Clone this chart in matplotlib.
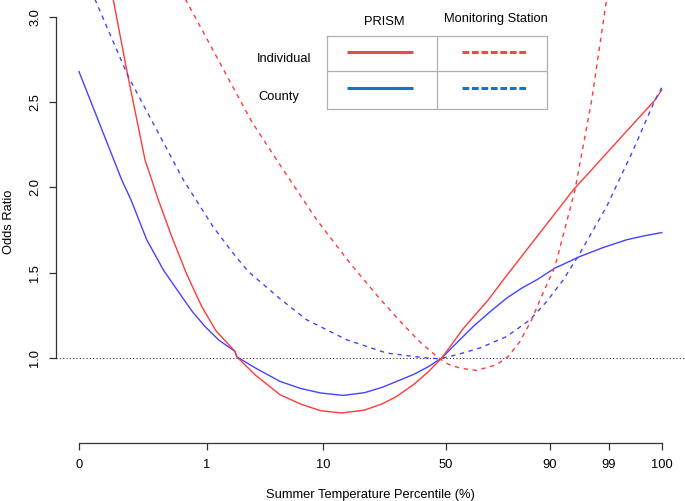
"""Odds ratio curves across the summer temperature percentile range."""

import matplotlib

matplotlib.use("Agg")
import matplotlib.pyplot as plt

plt.rcParams["font.family"] = ["Liberation Sans", "DejaVu Sans"]

# axis position of each percentile tick (axis is not linear in percentile)
tick_pos = [0, 21.97, 41.87, 62.93, 80.83, 90.96, 100]
tick_labels = ["0", "1", "10", "50", "90", "99", "100"]
y_ticks = [1.0, 1.5, 2.0, 2.5, 3.0]

# Individual exposure, PRISM
ind_prism_x = [0, 5.89, 8.19, 11.33, 12.48, 13.61, 15.91, 18.5, 21.06, 23.5, 26.77,
               27.06, 30.2, 34.5, 38.0, 41.5, 45.08, 49.0, 52.0, 54.52, 57.5, 60.0,
               62.25, 66.0, 70.24, 72.82, 84.83, 98.85, 100]
ind_prism_y = [4.15, 3.098, 2.687, 2.161, 2.044, 1.927, 1.712, 1.49, 1.302, 1.16, 1.039,
               1.008, 0.902, 0.785, 0.731, 0.691, 0.678, 0.695, 0.731, 0.775, 0.847, 0.921,
               1.0, 1.175, 1.341, 1.458, 1.985, 2.512, 2.571]

# County exposure, PRISM
cty_prism_x = [0, 7.33, 8.92, 11.62, 14.5, 17.62, 19.5, 21.62, 24.0, 26.77, 27.06,
               30.2, 34.5, 38.0, 41.5, 45.36, 49.0, 52.0, 54.52, 57.5, 60.0, 62.25,
               65.0, 67.67, 70.5, 73.4, 76.0, 78.55, 81.69, 85.98, 90.0, 94.0, 97.0, 100]
cty_prism_y = [2.678, 2.044, 1.927, 1.693, 1.515, 1.361, 1.27, 1.185, 1.105, 1.039, 1.008,
               0.943, 0.863, 0.822, 0.795, 0.781, 0.797, 0.828, 0.863, 0.905, 0.95, 1.0,
               1.095, 1.185, 1.27, 1.351, 1.41, 1.458, 1.527, 1.595, 1.648, 1.693, 1.716, 1.735]

# Individual exposure, monitoring station
ind_station_x = [0, 10, 18.65, 29.64, 35.06, 40.79, 46.51, 51.54, 55.38, 58.5, 61.39,
                 63.3, 65.39, 68.25, 71.68, 73.67, 75.68, 77.69, 79.11, 81.69, 85.12,
                 87.99, 90.44, 95, 100]
ind_station_y = [4.5, 3.6, 3.078, 2.385, 2.102, 1.810, 1.556, 1.351, 1.205, 1.095, 1.009,
                 0.965, 0.941, 0.927, 0.961, 1.009, 1.097, 1.224, 1.341, 1.536, 1.985,
                 2.512, 3.078, 3.7, 4.6]

# County exposure, monitoring station
cty_station_x = [0, 3.04, 8.46, 17.9, 23.0, 26.26, 29.05, 34.5, 39.08, 45.94,
                 52.81, 59.67, 61.95, 64.82, 68.82, 73.4, 77.4, 80.26, 83.11,
                 85.98, 90.56, 95.13, 98.85, 100]
cty_station_y = [3.319, 3.078, 2.649, 2.044, 1.77, 1.622, 1.507, 1.347, 1.224, 1.107,
                 1.029, 1.0, 0.996, 1.019, 1.059, 1.126, 1.224, 1.331, 1.458,
                 1.615, 1.888, 2.22, 2.512, 2.583]

RED = "#ff3a3a"
BLUE = "#4444ff"
LEG_RED = "#ef4a40"
LEG_BLUE = "#1f6fcf"
DASH = (0, (3.2, 3.3))

fig = plt.figure(figsize=(6.85, 5.01), dpi=100)
ax = fig.add_axes([0.0813, 0.1164, 0.9187, 0.883])

ax.axhline(1.0, color="#333333", linewidth=0.8, linestyle=(0, (1, 2)))
ax.plot(cty_prism_x, cty_prism_y, color=BLUE, linewidth=1.0)
ax.plot(ind_prism_x, ind_prism_y, color=RED, linewidth=1.0)
ax.plot(cty_station_x, cty_station_y, color=BLUE, linewidth=1.0, linestyle=DASH)
ax.plot(ind_station_x, ind_station_y, color=RED, linewidth=1.0, linestyle=DASH)

ax.set_xlim(-4, 104)
ax.set_ylim(0.504, 3.096)
ax.set_xticks(tick_pos)
ax.set_xticklabels(tick_labels)
ax.set_yticks(y_ticks)
ax.set_yticklabels([f"{v:.1f}" for v in y_ticks])

for side in ("top", "right"):
    ax.spines[side].set_visible(False)
ax.spines["left"].set_bounds(1.0, 3.0)
ax.spines["bottom"].set_bounds(0, 100)
for side in ("left", "bottom"):
    ax.spines[side].set_color("#333333")
    ax.spines[side].set_linewidth(0.9)
ax.tick_params(axis="both", length=5, width=0.9, color="#333333", labelsize=9.3, pad=7)
ax.tick_params(axis="y", labelrotation=90, pad=5.5)
for lbl in ax.get_yticklabels():
    lbl.set_va("center")

ax.set_xlabel("Summer Temperature Percentile (%)", fontsize=9.3)
ax.xaxis.set_label_coords(0.5, -0.1046)
ax.set_ylabel("Odds Ratio", fontsize=9.3, va="center")
ax.yaxis.set_label_coords(-0.074, 0.5)

# legend drawn as a small table
leg = fig.add_axes([0.4769, 0.7818, 0.3212, 0.1463])
leg.set_xlim(0, 1)
leg.set_ylim(0, 1)
leg.set_xticks([])
leg.set_yticks([])
for sp in leg.spines.values():
    sp.set_color("#b0b0b0")
    sp.set_linewidth(0.9)
leg.axvline(0.5, color="#b0b0b0", linewidth=0.9)
leg.axhline(0.527, color="#b0b0b0", linewidth=0.9)

leg_dash = (0, (2.2, 0.9))
leg.plot([0.091, 0.391], [0.786, 0.786], color=LEG_RED, linewidth=2.2, solid_capstyle="butt")
leg.plot([0.614, 0.909], [0.786, 0.786], color=LEG_RED, linewidth=2.2, linestyle=leg_dash)
leg.plot([0.091, 0.391], [0.286, 0.286], color=LEG_BLUE, linewidth=2.2, solid_capstyle="butt")
leg.plot([0.614, 0.909], [0.286, 0.286], color=LEG_BLUE, linewidth=2.2, linestyle=leg_dash)

leg.text(0.26, 1.195, "PRISM", ha="center", va="center", fontsize=9.3, clip_on=False)
leg.text(0.77, 1.232, "Monitoring Station", ha="center", va="center", fontsize=9.3, clip_on=False)
leg.text(-0.194, 0.682, "Individual", ha="center", va="center", fontsize=9.3, clip_on=False)
leg.text(-0.216, 0.164, "County", ha="center", va="center", fontsize=9.3, clip_on=False)

fig.savefig("out.png", dpi=100)
